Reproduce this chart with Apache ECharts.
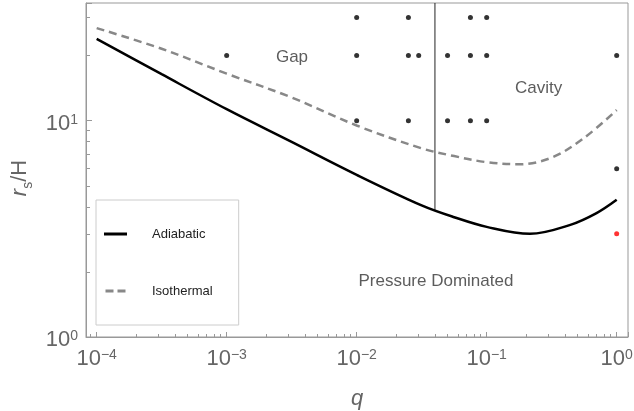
<!DOCTYPE html>
<html><head><meta charset="utf-8">
<script src="https://cdn.jsdelivr.net/npm/echarts@6/dist/echarts.min.js"></script>
<style>html,body{margin:0;padding:0;background:#fff}#c{width:634px;height:411px}</style>
</head><body><div id="c"></div>
<script>
// ---- data ----
const adiabaticQ = [1e-4, 3.16e-4, 1e-3, 3.16e-3, 1e-2, 0.0316, 0.0562, 0.1, 0.215, 0.44, 0.7, 1.0];
const adiabaticR = [23.9, 16.4, 11.3, 7.98, 5.62, 4.06, 3.58, 3.23, 3.00, 3.30, 3.74, 4.31];
const isothermalQ = [1e-4, 3.16e-4, 1e-3, 3.16e-3, 1e-2, 0.0316, 0.0562, 0.1, 0.178, 0.316, 0.562, 1.0];
const isothermalR = [26.8, 21.5, 16.5, 12.8, 9.5, 7.45, 6.86, 6.43, 6.29, 6.75, 8.33, 11.2];
const simQ = [0.01, 0.025, 0.075, 0.1,
              0.001, 0.01, 0.025, 0.03, 0.05, 0.075, 0.1, 1,
              0.01, 0.025, 0.05, 0.075, 0.1,
              1];
const simR = [30, 30, 30, 30,
              20, 20, 20, 20, 20, 20, 20, 20,
              10, 10, 10, 10, 10,
              6];
const redQ = [1];
const redR = [3];
const cutQ = [0.04, 0.04];
const cutR = [35, 3.87];
const regionNames = ['Gap', 'Cavity', 'Pressure Dominated'];
const regionQ = [0.00318, 0.251, 0.0407];
const regionR = [19.8, 14.3, 1.82];
const xTickExps = [-4, -3, -2, -1, 0];
const yTickExps = [0, 1];
const seriesNames = ['Adiabatic', 'Isothermal'];

// ---- helpers ----
const zip = (a, b) => a.map((v, i) => [v, b[i]]);
function powLabel(exps) {
  return function (v) {
    const e = Math.log10(v);
    const r = Math.round(e);
    if (Math.abs(e - r) > 1e-6 || exps.indexOf(r) < 0) return '';
    return '{b|10}{s|' + (r < 0 ? '\u2212' + (-r) : String(r)) + '}';
  };
}
const FONT = 'Liberation Sans, Arial, sans-serif';
const gray = '#999';
const labelRich = {
  b: { fontSize: 22, color: '#666', fontFamily: FONT, verticalAlign: 'bottom' },
  s: { fontSize: 14, color: '#666', fontFamily: FONT, verticalAlign: 'top' }
};

const chart = echarts.init(document.getElementById('c'), null, { renderer: 'canvas' });
chart.setOption({
  animation: false,
  backgroundColor: '#fff',
  grid: {
    left: 86, right: 6, top: 3, bottom: 74, show: true, borderColor: gray, borderWidth: 1,
    backgroundColor: 'transparent', containLabel: false, outerBoundsMode: 'none'
  },
  legend: {
    data: [
      { name: seriesNames[0], icon: 'path://M0,0H23V3H0Z' },
      { name: seriesNames[1], icon: 'path://M0,0H8V3H0Z M12,0H20V3H12Z' }
    ],
    orient: 'vertical', left: 96, top: 200,
    padding: [27, 26, 27, 8],
    itemGap: 43, itemWidth: 23, itemHeight: 3,
    borderColor: '#ccc', borderWidth: 1,
    textStyle: { fontSize: 13, lineHeight: 14, color: '#222', fontFamily: FONT, padding: [0, 0, 0, 20] }
  },
  xAxis: {
    type: 'log', logBase: 10, min: 8.28e-5, max: 1.222,
    axisLine: { lineStyle: { color: gray, width: 1 } },
    axisTick: { inside: true, length: 5, lineStyle: { color: gray } },
    minorTick: { show: true, splitNumber: 9, length: 3, lineStyle: { color: gray } },
    splitLine: { show: false }, minorSplitLine: { show: false },
    axisLabel: { formatter: powLabel(xTickExps), margin: 11, rich: labelRich, showMinLabel: true, showMaxLabel: true },
    name: 'q', nameLocation: 'middle', nameGap: 51,
    nameTextStyle: { fontStyle: 'italic', fontSize: 22, color: '#666', fontFamily: FONT }
  },
  yAxis: {
    type: 'log', logBase: 10, min: 1, max: 35,
    axisLine: { show: true, lineStyle: { color: gray, width: 1 } },
    axisTick: { show: true, inside: true, length: 6, lineStyle: { color: gray } },
    minorTick: { show: true, splitNumber: 9, length: 4, lineStyle: { color: gray } },
    splitLine: { show: false }, minorSplitLine: { show: false },
    axisLabel: { formatter: powLabel(yTickExps), margin: 8, rich: labelRich, padding: [6, 0, 0, 0] },
    name: '{i|r}{sub|s}{n|/H}', nameLocation: 'middle', nameGap: 36, nameRotate: 90,
    nameTextStyle: {
      color: '#666', fontFamily: FONT, padding: [0, 16, 0, 0],
      rich: {
        i: { fontStyle: 'italic', fontSize: 22, color: '#666', fontFamily: FONT, verticalAlign: 'bottom' },
        sub: { fontSize: 14, color: '#666', fontFamily: FONT, verticalAlign: 'bottom', padding: [0, 0, -4, 0] },
        n: { fontSize: 22, color: '#666', fontFamily: FONT, verticalAlign: 'bottom' }
      }
    }
  },
  series: [
    {
      name: 'Adiabatic', type: 'line', data: zip(adiabaticQ, adiabaticR),
      smooth: 0.35, symbol: 'none', lineStyle: { color: '#000', width: 2.5 }, itemStyle: { color: '#000' }, z: 4
    },
    {
      name: 'Isothermal', type: 'line', data: zip(isothermalQ, isothermalR),
      smooth: 0.35, symbol: 'none', lineStyle: { color: '#888', width: 2.5, type: [8, 5] }, itemStyle: { color: '#888' }, z: 3
    },
    {
      name: 'boundary', type: 'line', data: zip(cutQ, cutR), symbol: 'none',
      lineStyle: { color: '#222', width: 1 }, z: 2, silent: true
    },
    {
      name: 'sims', type: 'scatter', data: zip(simQ, simR), symbolSize: 5,
      itemStyle: { color: '#000' }, z: 5
    },
    {
      name: 'red', type: 'scatter', data: zip(redQ, redR), symbolSize: 5,
      itemStyle: { color: '#ff0000' }, z: 5
    },
    {
      name: 'regions', type: 'scatter', symbolSize: 0,
      data: regionQ.map((q, i) => [q, regionR[i], regionNames[i]]),
      label: { show: true, position: 'inside', offset: [0, 1], formatter: p => p.data[2], fontSize: 17, color: '#333', fontFamily: FONT },
      silent: true, z: 6
    }
  ]
});
</script></body></html>
